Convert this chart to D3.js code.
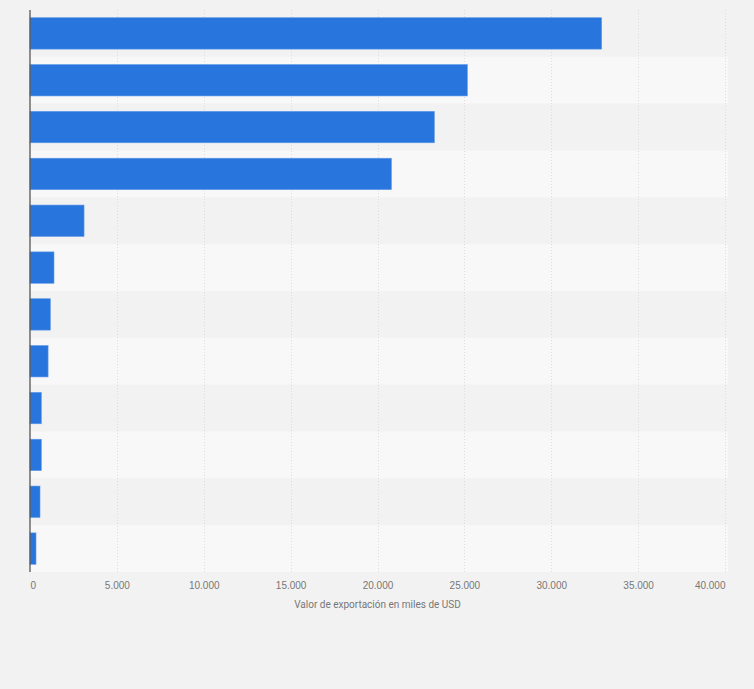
<!DOCTYPE html>
<html>
<head>
<meta charset="utf-8">
<script src="https://cdn.jsdelivr.net/npm/d3@7"></script>
<style>
  html, body { margin: 0; padding: 0; background: #f2f2f2; }
  svg { display: block; font-family: Roboto, "Noto Sans", sans-serif; }
</style>
</head>
<body>
<div class="container"></div>
<script>
// the reference shows no category labels, so the rows are just numbered
var categories = ["1", "2", "3", "4", "5", "6", "7", "8", "9", "10", "11", "12"];
var values = [32900, 25170, 23270, 20800, 3110, 1380, 1170, 1040, 650, 650, 575, 345];
var tickValues = [0, 5000, 10000, 15000, 20000, 25000, 30000, 35000, 40000];
var tickLabels = ["0", "5.000", "10.000", "15.000", "20.000", "25.000", "30.000", "35.000", "40.000"];
var axisTitle = "Valor de exportación en miles de USD";

var width = 754, height = 689;
var margin = {top: 10, left: 30, right: 29, bottom: 117};

var svg = d3.select('.container').append('svg')
    .attr("width", width)
    .attr("height", height);

svg.append("rect")
    .attr("width", width).attr("height", height)
    .attr("fill", "#f2f2f2");

var x = d3.scaleLinear()
    .domain([0, 40000])
    .range([margin.left, width - margin.right]);

var y = d3.scaleBand()
    .domain(categories)
    .range([margin.top, height - margin.bottom])
    .paddingInner(0.33)
    .paddingOuter(0.165);

// row stripes, every second row lighter
var step = y.step();
svg.append("g").selectAll("rect")
    .data(categories)
    .enter().append("rect")
    .attr("x", x(0))
    .attr("y", function(d) { return y(d) - y.paddingInner() * step / 2; })
    .attr("width", x(40000) - x(0) + 3)
    .attr("height", step)
    .attr("fill", function(d, i) { return i % 2 ? "#f8f8f8" : "#f2f2f2"; });

// dotted grid lines
svg.append("g").selectAll("line")
    .data(tickValues.slice(1))
    .enter().append("line")
    .attr("x1", function(d) { return Math.round(x(d)) + 0.5; })
    .attr("x2", function(d) { return Math.round(x(d)) + 0.5; })
    .attr("y1", margin.top)
    .attr("y2", height - margin.bottom)
    .attr("stroke", "#dcdcdc")
    .attr("stroke-width", 1)
    .attr("stroke-dasharray", "1,2");

// bars
svg.append("g").selectAll("rect")
    .data(values)
    .enter().append("rect")
    .attr("x", x(0))
    .attr("y", function(d, i) { return y(categories[i]); })
    .attr("width", function(d) { return x(d) - x(0); })
    .attr("height", y.bandwidth())
    .attr("fill", "#2876dd")
    .attr("stroke", "#5b97e6")
    .attr("stroke-width", 0.6);

// vertical axis line
svg.append("line")
    .attr("x1", x(0)).attr("x2", x(0))
    .attr("y1", margin.top).attr("y2", height - margin.bottom)
    .attr("stroke", "#555")
    .attr("stroke-width", 1.3);

// x axis labels
var xAxis = d3.axisBottom(x)
    .tickValues(tickValues)
    .tickFormat(function(d, i) { return tickLabels[i]; })
    .tickSize(0)
    .tickPadding(10);

var gx = svg.append("g")
    .attr("transform", "translate(0," + (height - margin.bottom) + ")")
    .call(xAxis);
gx.select(".domain").remove();
gx.selectAll("text")
    .attr("fill", "#777")
    .style("font-size", "10px")
    .attr("text-anchor", function(d, i) {
        if (i === 0) return "start";
        if (i === tickValues.length - 1) return "end";
        return "middle";
    });

svg.append("text")
    .attr("x", (x(0) + x(40000)) / 2)
    .attr("y", 608)
    .attr("text-anchor", "middle")
    .attr("fill", "#777")
    .style("font-size", "10px")
    .text(axisTitle);
</script>
</body>
</html>
